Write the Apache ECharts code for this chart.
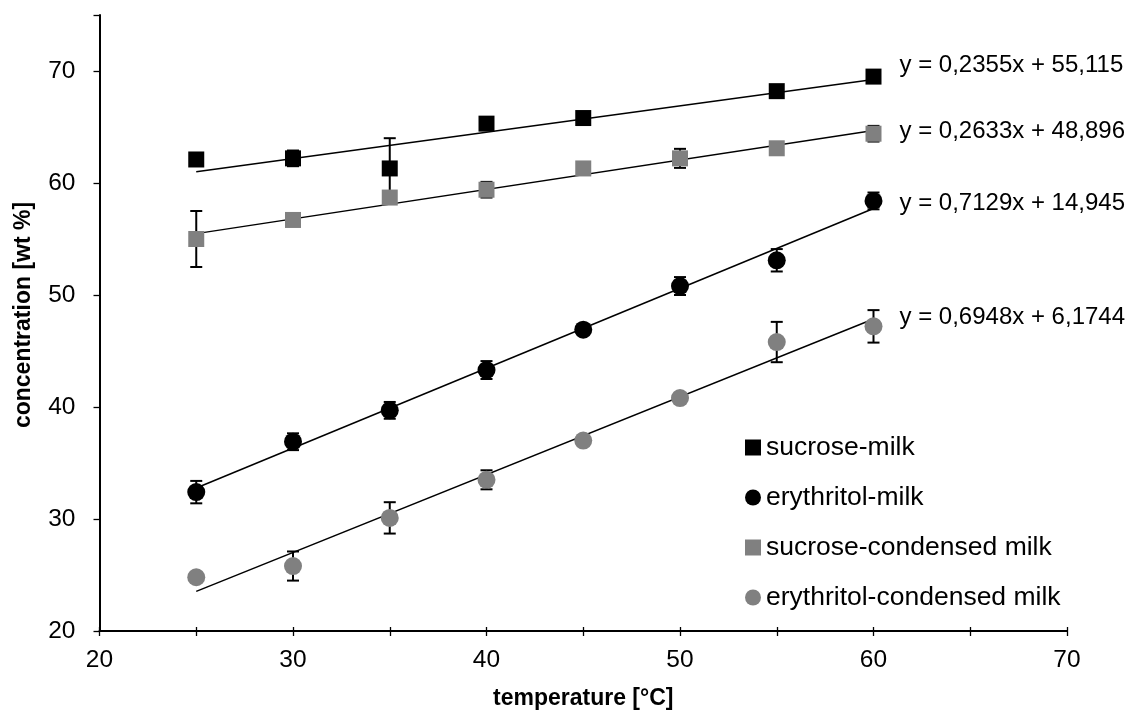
<!DOCTYPE html>
<html>
<head>
<meta charset="utf-8">
<script src="https://cdn.jsdelivr.net/npm/echarts@6/dist/echarts.min.js"></script>
<style>
  html, body { margin: 0; padding: 0; background: #fff; }
  #main { width: 1132px; height: 715px; }
</style>
</head>
<body>
<div id="main"></div>
<script>
// temperatures [°C]
var temps = [25, 30, 35, 40, 45, 50, 55, 60];

// concentrations [wt %]
var sucroseMilk   = [62.1, 62.2, 61.3, 65.3, 65.8, null, 68.2, 69.5];
var erythMilk     = [32.4, 36.9, 39.7, 43.3, 46.9, 50.8, 53.1, 58.4];
var sucroseCond   = [55.0, 56.7, 58.7, 59.4, 61.3, 62.2, 63.1, 64.4];
var erythCond     = [24.8, 25.8, 30.1, 33.5, 37.0, 40.8, 45.8, 47.2];

// error bar half-lengths
var errSucroseMilk = [0, 0.7, 2.7, 0, 0, 0, 0, 0];
var errErythMilk   = [1.0, 0.75, 0.75, 0.8, 0, 0.8, 1.0, 0.75];
var errSucroseCond = [2.5, 0, 0, 0.7, 0, 0.85, 0, 0.7];
var errErythCond   = [0, 1.3, 1.4, 0.85, 0, 0, 1.8, 1.45];

// linear trendlines, start and end values
var trendX = [25, 60];
var trendSucroseMilk = [61.0, 69.25];
var trendErythMilk   = [32.77, 57.72];
var trendSucroseCond = [55.48, 64.69];
var trendErythCond   = [23.54, 47.86];

var eqSucroseMilk = "y = 0,2355x + 55,115";
var eqSucroseCond = "y = 0,2633x + 48,896";
var eqErythMilk   = "y = 0,7129x + 14,945";
var eqErythCond   = "y = 0,6948x + 6,1744";

var xTicks = [20, 30, 40, 50, 60, 70];

var FONT = "'Liberation Sans', Arial, sans-serif";
var GRAY = "#808080";

var myChart = echarts.init(document.getElementById("main"));

function pairs(vals) {
    var out = [];
    temps.forEach(function (t, i) {
        if (vals[i] !== null) out.push([t, vals[i]]);
    });
    return out;
}

function errData(vals, errs) {
    var out = [];
    temps.forEach(function (t, i) {
        if (vals[i] !== null && errs[i] > 0) {
            out.push([t, vals[i] - errs[i], vals[i] + errs[i]]);
        }
    });
    return out;
}

function renderErr(params, api) {
    var x = api.value(0);
    var top = api.coord([x, api.value(2)]);
    var bot = api.coord([x, api.value(1)]);
    var w = 6;
    var st = { stroke: "#000", lineWidth: 2 };
    return {
        type: "group",
        children: [
            { type: "line", shape: { x1: top[0], y1: top[1], x2: bot[0], y2: bot[1] }, style: st },
            { type: "line", shape: { x1: top[0] - w, y1: top[1], x2: top[0] + w, y2: top[1] }, style: st },
            { type: "line", shape: { x1: bot[0] - w, y1: bot[1], x2: bot[0] + w, y2: bot[1] }, style: st }
        ]
    };
}

function errSeries(vals, errs) {
    return {
        type: "custom",
        renderItem: renderErr,
        data: errData(vals, errs),
        encode: { x: 0, y: [1, 2] },
        z: 2,
        silent: true
    };
}

function trendSeries(name, vals, eq, offsetY) {
    return {
        name: name,
        type: "line",
        data: [[trendX[0], vals[0]], [trendX[1], vals[1]]],
        showSymbol: false,
        lineStyle: { color: "#000", width: 1.5 },
        z: 1,
        silent: true,
        endLabel: {
            show: true,
            formatter: eq,
            color: "#000",
            fontFamily: FONT,
            fontSize: 24,
            distance: 26,
            offset: [0, offsetY]
        }
    };
}

function pointSeries(name, vals, symbol, size, color) {
    return {
        name: name,
        type: "scatter",
        data: pairs(vals),
        symbol: symbol,
        symbolSize: size,
        itemStyle: { color: color, opacity: 1 },
        z: 3
    };
}

var option = {
    animation: false,
    textStyle: { fontFamily: FONT },
    grid: { left: 99.5, right: 65, top: 15, bottom: 81 },
    legend: {
        orient: "vertical",
        left: 740,
        top: 428,
        itemWidth: 16,
        itemHeight: 16,
        itemGap: 21,
        textStyle: { fontFamily: FONT, fontSize: 26.5, color: "#000", lineHeight: 29 },
        data: [
            { name: "sucrose-milk", icon: "rect" },
            { name: "erythritol-milk", icon: "circle" },
            { name: "sucrose-condensed milk", icon: "rect" },
            { name: "erythritol-condensed milk", icon: "circle" }
        ]
    },
    xAxis: [{
        type: "value",
        min: 20,
        max: 70,
        interval: 5,
        name: "temperature [°C]",
        nameLocation: "middle",
        nameGap: 56,
        nameTextStyle: { fontFamily: FONT, fontSize: 23, fontWeight: "bold", color: "#000" },
        axisLine: { lineStyle: { color: "#000", width: 2 } },
        axisTick: { show: true, inside: false, length: 5, lineStyle: { color: "#000", width: 1.3 } },
        axisLabel: {
            fontFamily: FONT, fontSize: 24.5, color: "#000", margin: 17,
            formatter: function (v) { return xTicks.indexOf(v) >= 0 ? String(v) : ""; }
        },
        splitLine: { show: false }
    }, {
        type: "value",
        position: "bottom",
        min: 20,
        max: 70,
        interval: 5,
        axisLine: { show: false },
        axisTick: { show: true, inside: true, length: 4, lineStyle: { color: "#000", width: 1.3 } },
        axisLabel: { show: false },
        splitLine: { show: false }
    }],
    yAxis: {
        type: "value",
        min: 20,
        max: 75,
        interval: 10,
        name: "concentration [wt %]",
        nameLocation: "middle",
        nameGap: 64,
        nameTextStyle: { fontFamily: FONT, fontSize: 23, fontWeight: "bold", color: "#000", padding: [0, 0, 0, 16] },
        axisLine: { show: true, lineStyle: { color: "#000", width: 2 } },
        axisTick: { show: true, length: 6, lineStyle: { color: "#000", width: 1.3 } },
        axisLabel: {
            fontFamily: FONT, fontSize: 24.5, color: "#000", margin: 24,
            formatter: function (v) { return v > 70 ? "" : String(v); }
        },
        splitLine: { show: false }
    },
    series: [
        trendSeries("trend sucrose-milk", trendSucroseMilk, eqSucroseMilk, -14),
        trendSeries("trend sucrose-condensed", trendSucroseCond, eqSucroseCond, 1),
        trendSeries("trend erythritol-milk", trendErythMilk, eqErythMilk, -5),
        trendSeries("trend erythritol-condensed", trendErythCond, eqErythCond, -2),
        errSeries(sucroseMilk, errSucroseMilk),
        errSeries(erythMilk, errErythMilk),
        errSeries(sucroseCond, errSucroseCond),
        errSeries(erythCond, errErythCond),
        pointSeries("sucrose-milk", sucroseMilk, "rect", 16, "#000"),
        pointSeries("erythritol-milk", erythMilk, "circle", 18, "#000"),
        pointSeries("sucrose-condensed milk", sucroseCond, "rect", 16, GRAY),
        pointSeries("erythritol-condensed milk", erythCond, "circle", 18, GRAY)
    ]
};

myChart.setOption(option);
window.addEventListener("resize", function () { myChart.resize(); });
</script>
</body>
</html>
